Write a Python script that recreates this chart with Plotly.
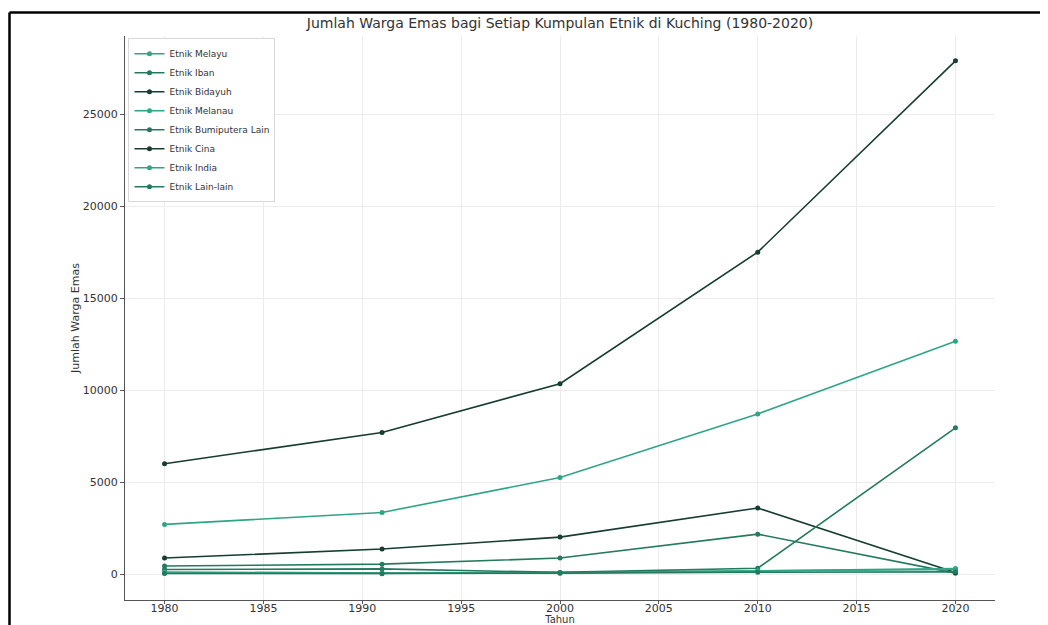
import plotly.graph_objects as go

years = [1980, 1991, 2000, 2010, 2020]
series_names = [
    "Etnik Melayu", "Etnik Iban", "Etnik Bidayuh", "Etnik Melanau",
    "Etnik Bumiputera Lain", "Etnik Cina", "Etnik India", "Etnik Lain-lain",
]
melayu = [2700, 3350, 5250, 8700, 12650]
iban = [435, 540, 870, 2170, 50]
bidayuh = [870, 1360, 2010, 3590, 80]
melanau = [60, 40, 90, 150, 250]
bumiputera_lain = [250, 280, 90, 320, 7950]
cina = [6000, 7700, 10350, 17500, 27900]
india = [110, 60, 60, 180, 300]
lain_lain = [30, 20, 50, 100, 120]
values = [melayu, iban, bidayuh, melanau, bumiputera_lain, cina, india, lain_lain]

x_ticks = [1980, 1985, 1990, 1995, 2000, 2005, 2010, 2015, 2020]
y_ticks = [0, 5000, 10000, 15000, 20000, 25000]

LIGHT = "#2fa586"
MED = "#247a5f"
DARK = "#173d30"
colors = [LIGHT, MED, DARK, LIGHT, MED, DARK, LIGHT, MED]

FONT = "DejaVu Sans"

fig = go.Figure()
for name, vals, col in zip(series_names, values, colors):
    fig.add_trace(go.Scatter(
        x=years, y=vals, name=name, mode="lines+markers",
        line=dict(color=col, width=1.6),
        marker=dict(color=col, size=5),
    ))

# page offset of the figure (body margin) and figure size
OFF = 8
W, H = 1048 - OFF, 625 - OFF
# plot area in figure pixels
L, R, T, B = 125 - OFF, 995 - OFF, 36 - OFF, 600 - OFF
pw, ph = R - L, B - T

def px_x(p):
    return (p - OFF - L) / pw

def px_y(p):
    return (B - (p - OFF)) / ph

fig.update_layout(
    width=W, height=H,
    margin=dict(l=L, r=W - R, t=T, b=H - B, autoexpand=False),
    paper_bgcolor="white", plot_bgcolor="white",
    font=dict(family=FONT, color="#333333", size=11),
    title=dict(
        text="Jumlah Warga Emas bagi Setiap Kumpulan Etnik di Kuching (1980-2020)",
        x=px_x(560), xref="paper", xanchor="center",
        y=1 - (23 - OFF) / H, yref="container", yanchor="middle",
        font=dict(size=14, color="#333333", family=FONT),
    ),
    xaxis=dict(
        range=[1978, 2022], tickvals=x_ticks, tickformat="d",
        showgrid=True, gridcolor="#ececec", gridwidth=1,
        showline=True, linecolor="#555555", linewidth=1,
        ticks="outside", ticklen=3, tickcolor="#555555",
        ticklabelstandoff=-5,
        zeroline=False, tickfont=dict(size=11, color="#333333"),
        title=dict(text="Tahun", font=dict(size=10, color="#333333"), standoff=6),
        automargin=False,
    ),
    yaxis=dict(
        range=[-1410, 29250], tickvals=y_ticks, tickformat="d",
        showgrid=True, gridcolor="#ececec", gridwidth=1,
        showline=True, linecolor="#555555", linewidth=1,
        ticks="outside", ticklen=4, tickcolor="#555555",
        zeroline=False, tickfont=dict(size=11, color="#333333"),
        title=dict(text="Jumlah Warga Emas", font=dict(size=11, color="#333333"), standoff=0),
        automargin=False,
    ),
    legend=dict(
        x=0.004, y=0.996, xanchor="left", yanchor="top",
        bgcolor="white", bordercolor="#d8d8d8", borderwidth=1,
        font=dict(size=9, color="#333333", family=FONT),
        itemwidth=30, tracegroupgap=0,
    ),
    shapes=[
        dict(type="line", xref="paper", yref="paper",
             x0=px_x(9.5), x1=px_x(1048), y0=px_y(12.5), y1=px_y(12.5),
             line=dict(color="black", width=2.5)),
        dict(type="line", xref="paper", yref="paper",
             x0=px_x(9.5), x1=px_x(9.5), y0=px_y(12.5), y1=px_y(625),
             line=dict(color="black", width=2.5)),
    ],
)

fig.write_html("out.html")
